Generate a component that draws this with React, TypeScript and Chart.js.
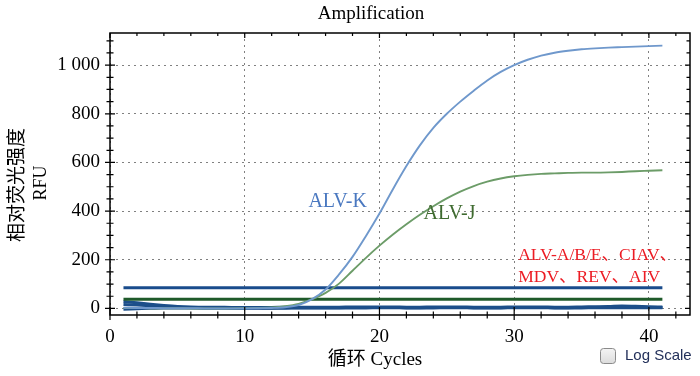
import { useEffect, useRef } from 'react';
import { Chart, registerables } from 'chart.js';
Chart.register(...registerables);

const cycles = [1, 2, 3, 4, 5, 6, 7, 8, 9, 10, 11, 12, 13, 14, 15, 16, 17, 18, 19, 20, 21, 22, 23, 24, 25, 26, 27, 28, 29, 30, 31, 32, 33, 34, 35, 36, 37, 38, 39, 40, 41];
const alvK = [3, 2, 2, 1, 1, 1, 0, 0, 0, 0, 1, 2, 5, 14, 38, 78, 140, 212, 298, 390, 490, 585, 670, 742, 800, 850, 895, 937, 972, 1000, 1022, 1039, 1051, 1059, 1065, 1069, 1072, 1074, 1076, 1078, 1080];
const alvJ = [2, 2, 1, 1, 1, 0, 0, 0, 0, 1, 2, 4, 9, 19, 38, 64, 102, 155, 208, 258, 304, 346, 385, 420, 452, 480, 503, 521, 534, 543, 549, 553, 555, 557, 558, 558, 559, 561, 564, 566, 568];
const neg1 = [28, 23, 17, 12, 8, 6, 5, 5, 4, 4, 4, 4, 5, 5, 5, 5, 5, 6, 6, 6, 6, 5, 5, 6, 6, 6, 5, 5, 5, 6, 6, 6, 5, 5, 6, 7, 8, 10, 9, 7, 6];
const neg2 = [16, 14, 11, 8, 6, 4, 3, 3, 3, 2, 2, 2, 3, 3, 3, 3, 3, 4, 4, 4, 4, 3, 3, 4, 4, 4, 3, 3, 3, 4, 4, 4, 3, 3, 4, 4, 5, 5, 5, 4, 4];
const neg3 = [-3, -1, 1, 2, 2, 2, 1, 1, 0, 0, 1, 1, 1, 2, 2, 2, 2, 2, 2, 3, 3, 2, 2, 2, 3, 3, 2, 2, 2, 3, 3, 3, 2, 2, 2, 3, 3, 3, 3, 3, 3];
const thresholdCycles = [1, 41];
const thresholdHigh = 85;
const thresholdLow = 38;

const xTickValues = [0, 10, 20, 30, 40];
const xTickLabels = ['0', '10', '20', '30', '40'];
const xMinorTicks = [2, 4, 6, 8, 12, 14, 16, 18, 22, 24, 26, 28, 32, 34, 36, 38, 42];
const yTickValues = [0, 200, 400, 600, 800, 1000];
const yTickLabels = ['0', '200', '400', '600', '800', '1 000'];
const yMinorTicks = [50, 100, 150, 250, 300, 350, 450, 500, 550, 650, 700, 750, 850, 900, 950, 1050, 1100];

const titleText = 'Amplification';
const xTitle = '循环 Cycles';
const yTitleLines = ['相对荧光强度', 'RFU'];
const annoTexts = ['ALV-K', 'ALV-J', 'ALV-A/B/E、CIAV、', 'MDV、REV、AIV'];
const annoX = [16.9, 25.2, 30.3, 30.3];
const annoY = [438, 390, 219, 127];
const logScaleLabel = 'Log Scale';

const SERIF = '"Liberation Serif", "Noto Sans CJK SC", serif';

const pts = (ys: number[]) => cycles.map((c, i) => ({ x: c, y: ys[i] }));
const flat = (v: number) => thresholdCycles.map((c) => ({ x: c, y: v }));

const decorPlugin = {
  id: 'decor',
  afterDatasetsDraw(chart: any) {
    const { ctx, chartArea: a, scales } = chart;
    const xs = scales.x;
    const ys = scales.y;
    ctx.save();
    ctx.strokeStyle = '#000';
    ctx.lineWidth = 1.5;
    ctx.strokeRect(a.left, a.top, a.right - a.left, a.bottom - a.top);
    ctx.lineWidth = 1.2;
    ctx.beginPath();
    xTickValues.forEach((v) => {
      const px = xs.getPixelForValue(v);
      ctx.moveTo(px, a.bottom - 8); ctx.lineTo(px, a.bottom + 5);
      ctx.moveTo(px, a.top); ctx.lineTo(px, a.top + 5);
    });
    xMinorTicks.forEach((v) => {
      const px = xs.getPixelForValue(v);
      ctx.moveTo(px, a.bottom - 3.5); ctx.lineTo(px, a.bottom + 3.5);
      ctx.moveTo(px, a.top); ctx.lineTo(px, a.top + 3);
    });
    yTickValues.forEach((v) => {
      const py = ys.getPixelForValue(v);
      ctx.moveTo(a.left - 5, py); ctx.lineTo(a.left + 5, py);
      ctx.moveTo(a.right - 5, py); ctx.lineTo(a.right, py);
    });
    yMinorTicks.forEach((v) => {
      const py = ys.getPixelForValue(v);
      ctx.moveTo(a.left - 3.5, py); ctx.lineTo(a.left + 3.5, py);
      ctx.moveTo(a.right - 3.5, py); ctx.lineTo(a.right, py);
    });
    ctx.stroke();
    ctx.restore();
  },
  afterDraw(chart: any) {
    const { ctx, scales } = chart;
    const xs = scales.x;
    const ys = scales.y;
    ctx.save();
    ctx.fillStyle = '#000';
    ctx.textBaseline = 'middle';
    ctx.textAlign = 'center';
    ctx.font = `19px ${SERIF}`;
    ctx.fillText(titleText, 371, 14);
    ctx.fillText(xTitle, 375, 360);
    ctx.save();
    ctx.translate(18, 185);
    ctx.rotate(-Math.PI / 2);
    ctx.font = `19px ${SERIF}`;
    ctx.fillText(yTitleLines[0], 0, 0);
    ctx.restore();
    ctx.save();
    ctx.translate(41, 183);
    ctx.rotate(-Math.PI / 2);
    ctx.font = `18px ${SERIF}`;
    ctx.fillText(yTitleLines[1], 0, 0);
    ctx.restore();
    const colors = ['#4a78c0', '#3f6b30', '#ec1c24', '#ec1c24'];
    const sizes = [20, 20, 17.5, 17.5];
    annoTexts.forEach((t, i) => {
      ctx.fillStyle = colors[i];
      ctx.font = `${sizes[i]}px ${SERIF}`;
      ctx.textAlign = i < 2 ? 'center' : 'left';
      ctx.fillText(t, xs.getPixelForValue(annoX[i]), ys.getPixelForValue(annoY[i]));
    });
    const bx = 600.5, by = 348.5, bw = 15, bh = 15, r = 3;
    ctx.beginPath();
    ctx.moveTo(bx + r, by);
    ctx.arcTo(bx + bw, by, bx + bw, by + bh, r);
    ctx.arcTo(bx + bw, by + bh, bx, by + bh, r);
    ctx.arcTo(bx, by + bh, bx, by, r);
    ctx.arcTo(bx, by, bx + bw, by, r);
    ctx.closePath();
    const g = ctx.createLinearGradient(0, by, 0, by + bh);
    g.addColorStop(0, '#f4f4f4');
    g.addColorStop(1, '#dcdcdc');
    ctx.fillStyle = g;
    ctx.fill();
    ctx.strokeStyle = '#8a8a8a';
    ctx.lineWidth = 1;
    ctx.stroke();
    ctx.fillStyle = '#23305a';
    ctx.textAlign = 'left';
    ctx.font = '15px "Liberation Sans", Arial, sans-serif';
    ctx.fillText(logScaleLabel, 625, 356);
    ctx.restore();
  },
};

export default function App() {
  const ref = useRef<HTMLCanvasElement>(null);
  useEffect(() => {
    document.body.style.margin = '0';
    const line = (data: any, color: string, width: number) => ({
      data,
      borderColor: color,
      backgroundColor: color,
      borderWidth: width,
      pointRadius: 0,
      cubicInterpolationMode: 'monotone' as const,
      fill: false,
    });
    const chart = new Chart(ref.current!, {
      type: 'line',
      data: {
        datasets: [
          line(pts(alvK), '#6f98cc', 1.9),
          line(pts(alvJ), '#6c9c68', 1.9),
          line(flat(thresholdHigh), '#1a4c8c', 3),
          line(flat(thresholdLow), '#1f5a2a', 3),
          line(pts(neg1), '#1c4f8a', 3),
          line(pts(neg2), '#1c4f8a', 3),
          line(pts(neg3), '#1c4f8a', 3),
        ],
      },
      options: {
        responsive: false,
        animation: false,
        layout: { padding: { top: 33, right: 10, left: 0, bottom: 0 } },
        plugins: { legend: { display: false }, tooltip: { enabled: false }, title: { display: false } },
        scales: {
          x: {
            type: 'linear',
            min: 0,
            max: 43.05,
            afterFit: (s: any) => { s.height = 61; },
            afterBuildTicks: (s: any) => { s.ticks = xTickValues.map((v) => ({ value: v })); },
            ticks: {
              callback: (v: any) => xTickLabels[xTickValues.indexOf(Number(v))] ?? '',
              font: { family: SERIF, size: 19 },
              color: '#000',
              padding: 11,
              maxRotation: 0,
              autoSkip: false,
            },
            grid: { color: '#808080', lineWidth: 1, drawTicks: false },
            border: { display: false, dash: [2, 4] },
          },
          y: {
            type: 'linear',
            min: -27,
            max: 1132,
            afterFit: (s: any) => { s.width = 110; },
            afterBuildTicks: (s: any) => { s.ticks = yTickValues.map((v) => ({ value: v })); },
            ticks: {
              callback: (v: any) => yTickLabels[yTickValues.indexOf(Number(v))] ?? '',
              font: { family: SERIF, size: 19 },
              color: '#000',
              padding: 10,
              autoSkip: false,
            },
            grid: { color: '#808080', lineWidth: 1, drawTicks: false },
            border: { display: false, dash: [2, 4] },
          },
        },
      },
      plugins: [decorPlugin],
    });
    return () => chart.destroy();
  }, []);
  return (
    <div style={{ width: 700, height: 376, background: '#fff' }}>
      <canvas ref={ref} width={700} height={376} />
    </div>
  );
}
